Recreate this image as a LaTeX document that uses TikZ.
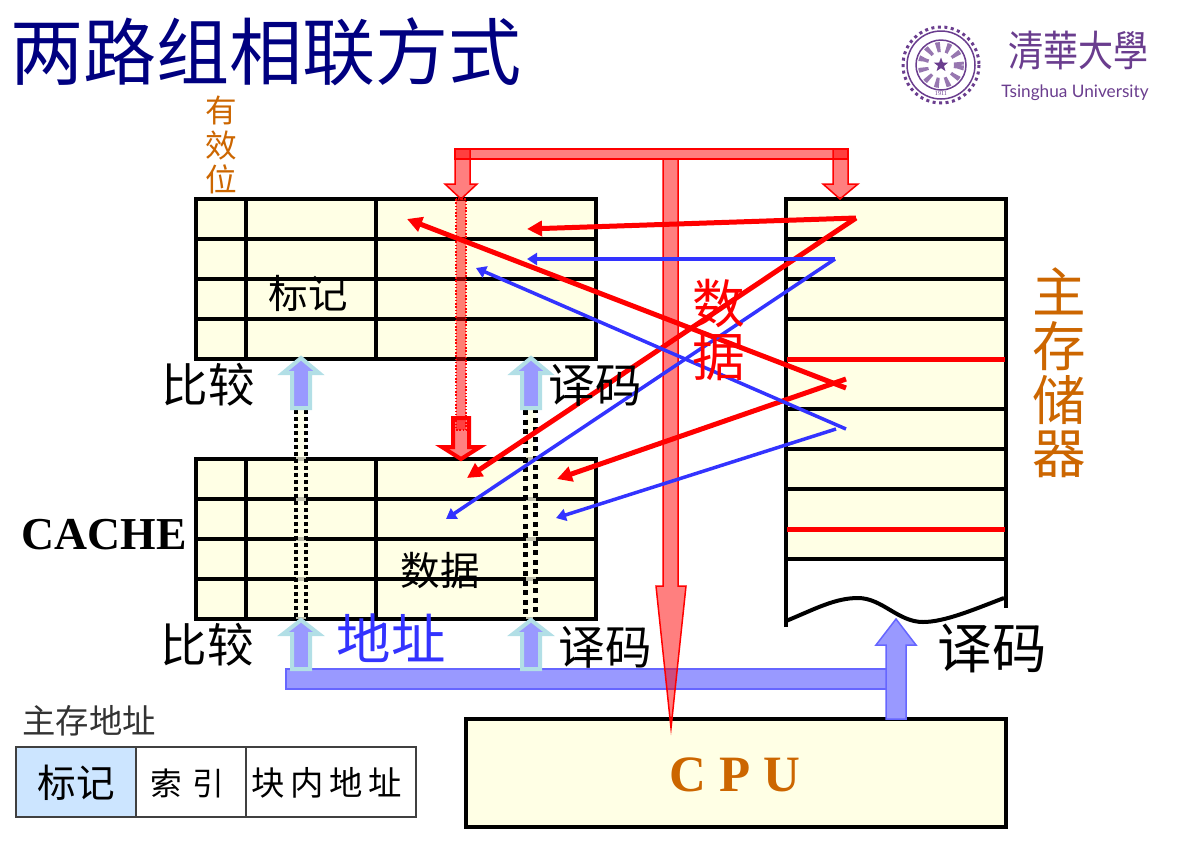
\documentclass[tikz,border=0pt]{standalone}
\usepackage{fontspec}
\setmainfont{Liberation Serif}
\newfontfamily\cjk{Noto Sans CJK SC}
\newfontfamily\cjktc{Noto Sans CJK TC}
\newfontfamily\logofont{Lato}
\usetikzlibrary{arrows.meta,shapes.geometric}
\definecolor{cream}{HTML}{FFFFE5}
\definecolor{orangetext}{HTML}{CC6600}
\definecolor{navytitle}{HTML}{000080}
\definecolor{addrblue}{HTML}{9999FF}
\definecolor{addrline}{HTML}{6666FF}
\definecolor{linkblue}{HTML}{3333FF}
\definecolor{paleteal}{HTML}{B2DFE6}
\definecolor{tagblue}{HTML}{CCE5FF}
\definecolor{logopurple}{HTML}{6A3D8E}
\newcommand{\fs}[1]{\fontsize{#1}{#1}\selectfont}
\tikzset{
  gridline/.style={line width=.08cm,black},
  databus/.style={draw=red,fill=red,fill opacity=.5,line width=.03cm},
  addrbus/.style={draw=addrline,fill=addrblue,line width=.03cm},
  tinybus/.style={draw=paleteal,fill=addrblue,line width=.08cm},
  dotline/.style={line width=.08cm,black,dash pattern=on .08cm off .06cm},
  redlink/.style={draw=red,line width=.1cm,-{Triangle[length=.3cm,width=.3cm]}},
  bluelink/.style={draw=linkblue,line width=.07cm,-{Triangle[length=.2cm,width=.24cm]}},
  cjklabel/.style={font=\cjk\fs{26.5},inner sep=0pt,align=center}
}
\begin{document}
\begin{tikzpicture}[x=.02cm,y=-.02cm,join=miter] % two-way set associative cache
        \useasboundingbox (0,0) rectangle (1190,846);
        % link ends
        \coordinate (memA) at (856,218);
        \coordinate (memB) at (835,259);
        \coordinate (memC) at (846,388);
        \coordinate (memD) at (846,379);
        \coordinate (memE) at (846,429);
        \coordinate (memF) at (836,429);
        \coordinate (tagA) at (407,219);
        \coordinate (tagB) at (527,229);
        \coordinate (tagC) at (527,259);
        \coordinate (tagD) at (476,268);
        \coordinate (dataA) at (467,478);
        \coordinate (dataB) at (557,479);
        \coordinate (dataC) at (446,519);
        \coordinate (dataD) at (556,518);
        % upper and lower cache
        \filldraw[gridline,fill=cream](196,199) rectangle (596,359);
        \draw[gridline](196,239)--(596,239) (196,279)--(596,279) (196,319)--(596,319);
        \draw[gridline](246,199)--(246,359) (376,199)--(376,359);
        \filldraw[gridline,fill=cream](196,459) rectangle (596,619);
        \draw[gridline](196,499)--(596,499) (196,539)--(596,539) (196,579)--(596,579);
        \draw[gridline](246,459)--(246,619) (376,459)--(376,619);
        % main memory
        \fill[cream](786,199) rectangle (1006,559);
        \draw[gridline](786,627)--(786,199)--(1006,199)--(1006,608);
        \draw[gridline](786,239)--(1006,239) (786,279)--(1006,279) (786,319)--(1006,319)
                (786,409)--(1006,409) (786,449)--(1006,449) (786,489)--(1006,489) (786,559)--(1006,559);
        \draw[line width=.1cm,red](787,359)--(1005,359) (787,529)--(1005,529);
        \draw[line width=.08cm](786,621) .. controls (815,609) and (835,598) .. (858,598)
                .. controls (882,598) and (898,622) .. (923,622)
                .. controls (945,622) and (975,609) .. (1004,598);
        % dotted tracks
        \fill[cream,fill opacity=.75](296,410) rectangle (306,619);
        \fill[cream,fill opacity=.75](526,410) rectangle (536,619);
        \draw[dotline](296,410)--(296,619) (306,410)--(306,619);
        \draw[dotline,line width=.1cm,dash pattern=on .1cm off .09cm](525,410)--(525,619) (535,408)--(535,619);
        % CPU
        \filldraw[gridline,fill=cream](466,719) rectangle (1006,827);
        % address bus
        \filldraw[addrbus](286,669) rectangle (888,689);
        \filldraw[addrbus](886,719)--(886,645)--(876,645)--(896,619)--(916,645)--(906,645)--(906,719)--cycle;
        \filldraw[tinybus](292,408)--(292,373)--(283,373)--(301,358)--(319,373)--(310,373)--(310,408)--cycle;
        \filldraw[tinybus](522,408)--(522,373)--(513,373)--(531,358)--(549,373)--(540,373)--(540,408)--cycle;
        \filldraw[tinybus](292,669)--(292,634)--(283,634)--(301,620)--(319,634)--(310,634)--(310,669)--cycle;
        \filldraw[tinybus](522,669)--(522,634)--(513,634)--(531,620)--(549,634)--(540,634)--(540,669)--cycle;
        % data bus
        \filldraw[databus](663,159)--(678,159)--(678,586)--(686,586)--(671,728)--(656,586)--(663,586)--cycle;
        \filldraw[databus](455,149) rectangle (848,159);
        \filldraw[databus](455,149)--(470,149)--(470,184)--(477,184)--(461,199)--(445,184)--(455,184)--cycle;
        \filldraw[databus](833,149)--(848,149)--(848,184)--(858,184)--(840,199)--(823,184)--(833,184)--cycle;
        \filldraw[databus,densely dotted](456,199) rectangle (466,430);
        \filldraw[draw=red,fill=red,fill opacity=.5,line width=.08cm](453,418)--(469,418)--(469,447)--(480,447)--(461,459)--(442,447)--(453,447)--cycle;
        % links
        \draw[redlink](memA)--(tagB);
        \draw[redlink](memA)--(dataA);
        \draw[redlink](memC)--(tagA);
        \draw[redlink](memD)--(dataB);
        \draw[bluelink](memB)--(tagC);
        \draw[bluelink](memB)--(dataC);
        \draw[bluelink](memE)--(tagD);
        \draw[bluelink](memF)--(dataD);
        % labels
        \node[cjklabel,font=\cjk\fs{41.6},text=navytitle] (title) at (266,52) {两路组相联方式};
        \node[cjklabel,font=\cjk\fs{18},text=orangetext] (validbit) at (221,145) {有\\[.05cm]效\\[.05cm]位};
        \node[cjklabel,font=\cjk\fs{30.5},text=orangetext] (memlabel) at (1059,373) {主\\存\\储\\器};
        \node[cjklabel,font=\cjk\fs{22.5}] (taglabel) at (308,293) {标记};
        \node[cjklabel] (cmpup) at (208,385) {比较};
        \node[cjklabel] (decup) at (595,385) {译码};
        \node[cjklabel,font=\bfseries\fs{26}] (cachelabel) at (104,535) {CACHE};
        \node[cjklabel,font=\cjk\fs{22.5}] (datalabel) at (440,571) {数据};
        \node[cjklabel] (cmpdown) at (207,645) {比较};
        \node[cjklabel,font=\cjk\fs{31},text=linkblue] (addrlabel) at (391,638) {地址};
        \node[cjklabel] (decdown) at (605,647) {译码};
        \node[cjklabel,font=\cjk\fs{31}] (decmem) at (992,648) {译码};
        \node[cjklabel,font=\cjk\fs{30},text=red] (buslabel) at (719,330) {数\\据};
        \node[cjklabel,font=\bfseries\fs{29},text=orangetext] (cpulabel) at (735,775) {C P U};
        % address format
        \node[cjklabel,font=\cjk\fs{19},text=black!80] (fmtlabel) at (89,721) {主存地址};
        \filldraw[draw=black!75,line width=.04cm,fill=tagblue](16,747) rectangle (136,817);
        \draw[draw=black!75,line width=.04cm](136,747) rectangle (246,817);
        \draw[draw=black!75,line width=.04cm](246,747) rectangle (416,817);
        \node[cjklabel,font=\cjk\fs{22}] (fmttag) at (76,783) {标记};
        \node[cjklabel,font=\cjk\fs{18}] (fmtindex) at (187,783) {索\,\,引};
        \node[cjklabel,font=\cjk\fs{19}] (fmtoffset) at (327,783) {块\,内\,地\,址};
        % logo
        \draw[logopurple,line width=.06cm,dotted](941,65) circle (38);
        \draw[logopurple,line width=.03cm](941,65) circle (34);
        \draw[logopurple,line width=.03cm](941,65) circle (25);
        \draw[logopurple!70,line width=.2cm,dash pattern=on .08cm off .12cm](941,65) circle (18);
        \node[star,star points=5,star point ratio=2.4,fill=logopurple,inner sep=0pt,minimum size=.3cm] (sealstar) at (941,65) {};
        \node[inner sep=0pt,text=logopurple,font=\fs{3.5}] (sealyear) at (941,93) {1911};
        \node[inner sep=0pt,text=logopurple,font=\cjktc\fs{24},xscale=.83,transform shape] (logocn) at (1078,51) {清華大學};
        \node[inner sep=0pt,text=logopurple,font=\logofont\fs{9.8}] (logoen) at (1075,93) {Tsinghua University};
    \end{tikzpicture}
\end{document}
